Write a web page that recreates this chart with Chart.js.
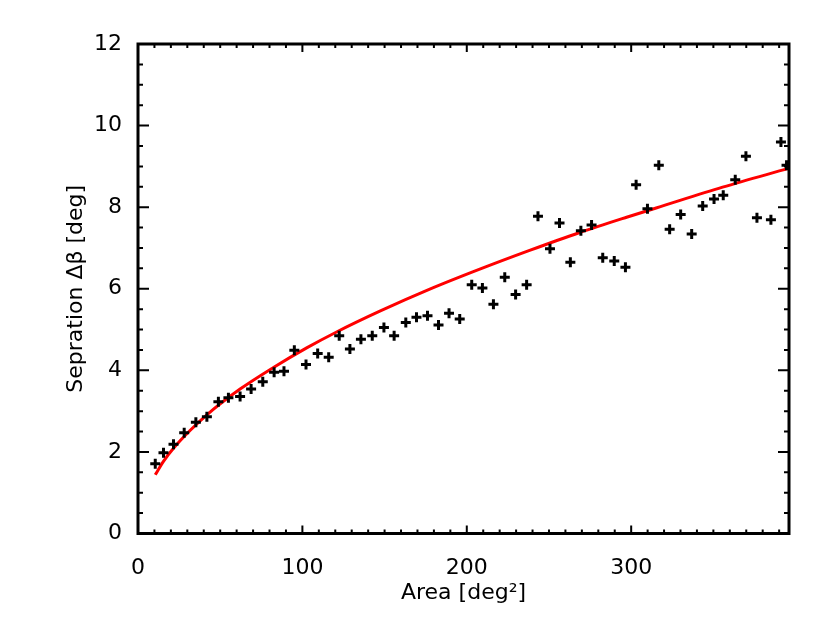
<!DOCTYPE html>
<html>
<head>
<meta charset="utf-8">
<script src="https://cdn.jsdelivr.net/npm/chart.js@4/dist/chart.umd.min.js"></script>
<style>
    body { margin: 0; background: #fff; }
    #wrap { width: 830px; height: 624px; }
</style>
</head>
<body>
<div id="wrap"><canvas id="sepChart"></canvas></div>
<script>
let area = [10.5, 15.5, 21.6, 28.1, 35.2, 41.9, 48.9, 55.0, 62.1, 68.8, 75.9, 82.8, 88.8, 95.1, 102.2, 109.3, 116.0, 122.4, 128.9, 135.6,
    142.5, 149.6, 155.8, 162.9, 169.4, 176.1, 182.8, 189.2, 195.7, 203.0, 209.5, 216.2, 223.1, 229.7, 236.4, 243.3, 250.6, 256.4, 263.0, 269.4,
    275.9, 282.7, 289.7, 296.5, 303.0, 309.9, 316.8, 323.4, 330.1, 336.8, 343.5, 350.4, 356.0, 363.3, 369.8, 376.5, 385.0, 391.1, 394.5]
let separation = [1.71, 1.98, 2.19, 2.47, 2.73, 2.86, 3.23, 3.33, 3.36, 3.54, 3.72, 3.95, 3.98, 4.49, 4.14, 4.41, 4.32, 4.85, 4.52, 4.76,
    4.85, 5.05, 4.85, 5.17, 5.30, 5.34, 5.11, 5.40, 5.26, 6.10, 6.02, 5.62, 6.28, 5.86, 6.10, 7.78, 6.98, 7.61, 6.65, 7.42,
    7.56, 6.76, 6.68, 6.53, 8.55, 7.96, 9.03, 7.46, 7.82, 7.34, 8.03, 8.20, 8.29, 8.67, 9.25, 7.74, 7.69, 9.60, 9.03]

// red fit curve
let fit_x = [10.5, 15.5, 21.6, 31.8, 41.9, 62.1, 82.4, 102.6, 120.8, 147.1, 177.5, 207.9, 238.2, 268.7, 297.7, 315.2, 355.6, 395.7]
let fit_y = [1.44, 1.77, 2.09, 2.53, 2.91, 3.54, 4.07, 4.55, 4.94, 5.45, 5.99, 6.48, 6.94, 7.38, 7.76, 7.98, 8.49, 8.95]

let x_ticks = [0, 100, 200, 300]
let y_ticks = [0, 2, 4, 6, 8, 10, 12]

let font = { family: "DejaVu Sans", size: 22 }

let points = area.map((a, i) => ({ x: a, y: separation[i] }))
let fit = fit_x.map((a, i) => ({ x: a, y: fit_y[i] }))

// inward ticks on all four sides + frame
let frame = {
    id: "frame",
    afterDatasetsDraw(chart) {
        let ctx = chart.ctx
        let { left, right, top, bottom } = chart.chartArea
        let xs = chart.scales.x
        let ys = chart.scales.y
        ctx.save()
        ctx.strokeStyle = "#000"
        ctx.lineWidth = 2
        ctx.beginPath()
        for (let v = 0; v <= xs.max; v += 10) {
            let px = xs.getPixelForValue(v)
            let len = v % 100 === 0 ? 8 : 4
            ctx.moveTo(px, bottom); ctx.lineTo(px, bottom - len)
            ctx.moveTo(px, top); ctx.lineTo(px, top + len)
        }
        for (let v = 0; v <= ys.max; v += 0.5) {
            let py = ys.getPixelForValue(v)
            let len = v % 2 === 0 ? 11 : 5
            ctx.moveTo(left, py); ctx.lineTo(left + len, py)
            ctx.moveTo(right, py); ctx.lineTo(right - len, py)
        }
        ctx.stroke()
        ctx.lineWidth = 3
        ctx.strokeRect(left, top, right - left, bottom - top)
        ctx.restore()
    }
}

const ctx = document.getElementById("sepChart").getContext("2d")

new Chart(ctx, {
    type: "scatter",
    data: {
        datasets: [{
            data: points,
            pointStyle: "cross",
            pointRadius: 5,
            pointBorderWidth: 3,
            borderColor: "#000",
            backgroundColor: "#000",
            clip: 0
        }, {
            type: "line",
            data: fit,
            borderColor: "#ff0000",
            borderWidth: 3,
            pointRadius: 0,
            cubicInterpolationMode: "monotone",
            fill: false,
            clip: 0
        }]
    },
    options: {
        responsive: true,
        maintainAspectRatio: false,
        animation: false,
        layout: { padding: { left: 63, right: 41, top: 44, bottom: 18 } },
        plugins: {
            legend: { display: false },
            tooltip: { enabled: false }
        },
        scales: {
            x: {
                type: "linear",
                min: 0,
                max: 396,
                grid: { display: false },
                border: { display: false },
                afterFit: scale => { scale.height = 72.5 },
                afterBuildTicks: scale => { scale.ticks = x_ticks.map(v => ({ value: v })) },
                ticks: { font: font, color: "#000", padding: 14, maxRotation: 0, autoSkip: false },
                title: { display: true, text: "Area [deg²]", font: font, color: "#000", padding: 0 }
            },
            y: {
                type: "linear",
                min: 0,
                max: 12,
                grid: { display: false },
                border: { display: false },
                afterFit: scale => { scale.width = 75 },
                afterBuildTicks: scale => { scale.ticks = y_ticks.map(v => ({ value: v })) },
                ticks: { font: font, color: "#000", padding: 8, autoSkip: false },
                title: { display: true, text: "Sepration Δβ [deg]", font: font, color: "#000", padding: 0 }
            }
        }
    },
    plugins: [frame]
})
</script>
</body>
</html>
